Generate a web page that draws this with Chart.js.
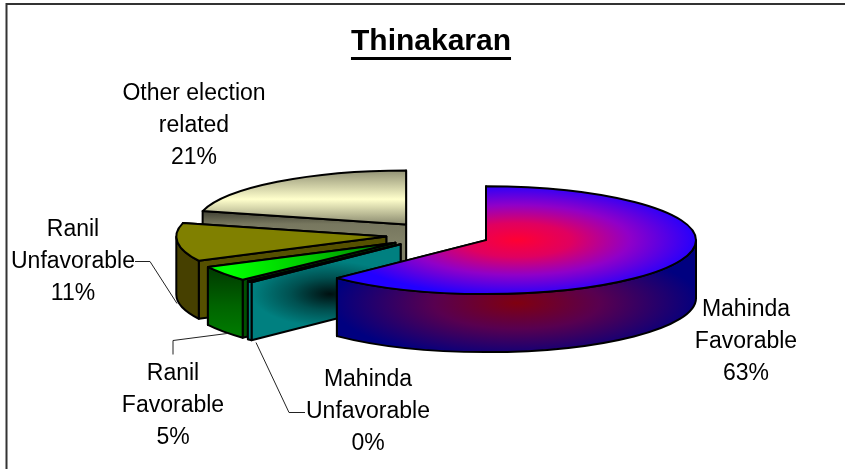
<!DOCTYPE html>
<html>
<head>
<meta charset="utf-8">
<title>Thinakaran</title>
<script src="https://cdn.jsdelivr.net/npm/chart.js@4"></script>
<style>
  html, body { margin: 0; padding: 0; background: #fff; }
  canvas { display: block; }
</style>
</head>
<body>
<canvas id="pie" width="845" height="469"></canvas>
<script>
var titleText = 'Thinakaran';
var categories = ['Mahinda Favorable', 'Mahinda Unfavorable', 'Ranil Favorable', 'Ranil Unfavorable', 'Other election related'];
var shares = [62.5, 0.4, 4.6, 11.4, 21];

// how the flat library pie gets turned into the tilted one
var squash = 0.257;
var depth = 58;
var explode = 52;
var drawOrder = [4, 3, 2, 1, 0];

// label lines per slice, centre x and y of each line
var labelLines = [['Mahinda', 'Favorable'], ['Mahinda', 'Unfavorable'], ['Ranil', 'Favorable'], ['Ranil', 'Unfavorable'], ['Other election', 'related']];
var labelX = [746, 368, 173, 73, 194];
var labelY = [310, 380, 374, 230, 94];
var leaders = [
  null,
  [[256, 342], [289, 412], [305, 412]],
  [[227, 333], [173, 340], [173, 354]],
  [[135, 261], [150, 261], [177, 303]],
  null
];

function linear(ctx, x0, y0, x1, y1, stops) {
  var g = ctx.createLinearGradient(x0, y0, x1, y1);
  stops.forEach(function (s) { g.addColorStop(s[0], s[1]); });
  ctx.fillStyle = g;
  ctx.fill();
}

// path stays put when the transform changes, so the gradient comes out elliptic
function radial(ctx, cx, cy, r, k, stops) {
  var g = ctx.createRadialGradient(0, 0, 0, 0, 0, r);
  stops.forEach(function (s) { g.addColorStop(s[0], s[1]); });
  ctx.save();
  ctx.translate(cx, cy);
  ctx.scale(1, k);
  ctx.fillStyle = g;
  ctx.fill();
  ctx.restore();
}

var skins = [
  {
    top: function (ctx) { radial(ctx, 517, 240, 182, 0.31, [[0, '#ff0033'], [0.3, '#e00060'], [0.62, '#9000c8'], [1, '#2200ff']]); },
    rim: function (ctx) { radial(ctx, 517, 303, 185, 0.31, [[0, '#800010'], [0.45, '#580050'], [1, '#000080']]); },
    wall: function (ctx) { ctx.fillStyle = '#000080'; ctx.fill(); }
  },
  {
    top: function (ctx) { ctx.fillStyle = '#00b0b0'; ctx.fill(); },
    rim: function (ctx) { ctx.fillStyle = '#008080'; ctx.fill(); },
    wall: function (ctx) { radial(ctx, 330, 294, 78, 0.42, [[0, '#001010'], [0.5, '#005050'], [1, '#008080']]); }
  },
  {
    top: function (ctx) { linear(ctx, 230, 270, 390, 245, [[0, '#00ff00'], [0.5, '#00c800'], [1, '#008000']]); },
    rim: function (ctx) { linear(ctx, 0, 262, 0, 342, [[0, '#003300'], [0.55, '#006400'], [1, '#008000']]); },
    wall: function (ctx) { ctx.fillStyle = '#005000'; ctx.fill(); }
  },
  {
    top: function (ctx) { ctx.fillStyle = '#808000'; ctx.fill(); },
    rim: function (ctx) { ctx.fillStyle = '#464000'; ctx.fill(); },
    wall: function (ctx) { ctx.fillStyle = '#555000'; ctx.fill(); }
  },
  {
    top: function (ctx) { linear(ctx, 0, 169, 0, 224, [[0, '#8c8c70'], [0.55, '#ffffcc'], [1, '#8c8c70']]); },
    rim: function (ctx) { ctx.fillStyle = '#808066'; ctx.fill(); },
    wall: function (ctx) { linear(ctx, 0, 208, 0, 240, [[0, '#333328'], [0.5, '#77775f'], [1, '#808066']]); }
  }
];

function finish(ctx) {
  ctx.lineWidth = 2;
  ctx.lineJoin = 'round';
  ctx.strokeStyle = '#000';
  ctx.stroke();
}

function drawWall(ctx, c, r, a, skin) {
  var px = c.x + r * Math.cos(a);
  var py = c.y + r * Math.sin(a) * squash;
  ctx.beginPath();
  ctx.moveTo(c.x, c.y);
  ctx.lineTo(px, py);
  ctx.lineTo(px, py + depth);
  ctx.lineTo(c.x, c.y + depth);
  ctx.closePath();
  skin.wall(ctx);
  finish(ctx);
}

function drawRim(ctx, c, r, from, to, skin) {
  var a0 = Math.max(from, 0);
  var a1 = Math.min(to, Math.PI);
  if (a1 <= a0) return;
  ctx.beginPath();
  ctx.ellipse(c.x, c.y, r, r * squash, 0, a0, a1);
  ctx.ellipse(c.x, c.y + depth, r, r * squash, 0, a1, a0, true);
  ctx.closePath();
  skin.rim(ctx);
  finish(ctx);
}

function drawTop(ctx, c, r, from, to, skin) {
  ctx.beginPath();
  ctx.moveTo(c.x, c.y);
  ctx.ellipse(c.x, c.y, r, r * squash, 0, from, to);
  ctx.closePath();
  skin.top(ctx);
  finish(ctx);
}

// takes over the drawing of the arcs, geometry still comes from the doughnut controller
var tiltedPie = {
  id: 'tiltedPie',
  beforeDatasetDraw: function (chart, args) {
    var ctx = chart.ctx;
    var arcs = args.meta.data;
    ctx.save();
    drawOrder.forEach(function (i) {
      var arc = arcs[i];
      var mid = (arc.startAngle + arc.endAngle) / 2;
      var off = arc.options.offset;
      var r = arc.outerRadius;
      var c = {
        x: arc.x + off * Math.cos(mid),
        y: arc.y + off * Math.sin(mid) * squash
      };
      // back walls first so the front ones cover them
      var walls = [arc.startAngle, arc.endAngle].sort(function (a, b) {
        return Math.sin(a) - Math.sin(b);
      });
      drawWall(ctx, c, r, walls[0], skins[i]);
      drawWall(ctx, c, r, walls[1], skins[i]);
      drawRim(ctx, c, r, arc.startAngle, arc.endAngle, skins[i]);
      drawTop(ctx, c, r, arc.startAngle, arc.endAngle, skins[i]);
    });
    ctx.restore();
    return false;
  },
  afterDraw: function (chart) {
    var ctx = chart.ctx;
    var total = shares.reduce(function (a, b) { return a + b; }, 0);
    ctx.save();

    // frame
    ctx.strokeStyle = '#333';
    ctx.lineWidth = 2;
    ctx.beginPath();
    ctx.moveTo(6.5, 469);
    ctx.lineTo(6.5, 4);
    ctx.lineTo(845, 4);
    ctx.stroke();

    // title
    ctx.fillStyle = '#000';
    ctx.font = 'bold 30px "Liberation Sans"';
    ctx.textAlign = 'center';
    ctx.textBaseline = 'middle';
    ctx.fillText(titleText, 431, 42);
    var w = ctx.measureText(titleText).width;
    ctx.fillRect(431 - w / 2, 57, w, 3);

    // leader lines
    ctx.strokeStyle = '#222';
    ctx.lineWidth = 1;
    leaders.forEach(function (pts) {
      if (!pts) return;
      ctx.beginPath();
      pts.forEach(function (p, n) {
        if (n === 0) ctx.moveTo(p[0], p[1] + 0.5);
        else ctx.lineTo(p[0], p[1] + 0.5);
      });
      ctx.stroke();
    });

    // labels
    ctx.font = '23px "Liberation Sans"';
    ctx.fillStyle = '#000';
    categories.forEach(function (name, i) {
      var lines = labelLines[i].concat([(shares[i] / total * 100).toFixed(0) + '%']);
      lines.forEach(function (text, n) {
        ctx.fillText(text, labelX[i], labelY[i] + n * 32);
      });
    });
    ctx.restore();
  }
};

new Chart(document.getElementById('pie'), {
  type: 'pie',
  data: {
    labels: categories,
    datasets: [{
      data: shares,
      offset: explode,
      borderWidth: 0
    }]
  },
  options: {
    responsive: false,
    animation: false,
    radius: 210,
    layout: { padding: { left: 31, top: 1 } },
    plugins: {
      legend: { display: false },
      tooltip: { enabled: false }
    }
  },
  plugins: [tiltedPie]
});
</script>
</body>
</html>
